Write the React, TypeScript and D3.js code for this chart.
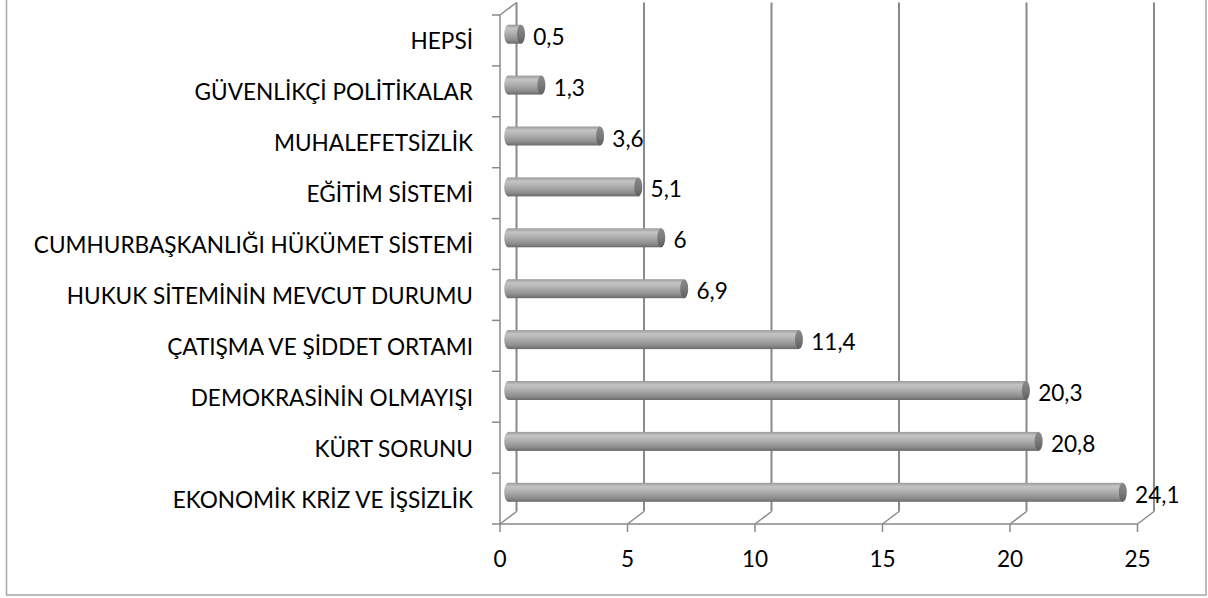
import React from "react";
import * as d3 from "d3";

const categories = [
  "EKONOMİK KRİZ VE İŞSİZLİK",
  "KÜRT SORUNU",
  "DEMOKRASİNİN OLMAYIŞI",
  "ÇATIŞMA VE ŞİDDET ORTAMI",
  "HUKUK SİTEMİNİN MEVCUT DURUMU",
  "CUMHURBAŞKANLIĞI HÜKÜMET SİSTEMİ",
  "EĞİTİM SİSTEMİ",
  "MUHALEFETSİZLİK",
  "GÜVENLİKÇİ POLİTİKALAR",
  "HEPSİ",
];
const values = [24.1, 20.8, 20.3, 11.4, 6.9, 6, 5.1, 3.6, 1.3, 0.5];
const valueLabels = ["24,1", "20,8", "20,3", "11,4", "6,9", "6", "5,1", "3,6", "1,3", "0,5"];
const xTicks = [0, 5, 10, 15, 20, 25];

const W = 1208;
const H = 598;
const FONT = "Lato, 'Open Sans', sans-serif";
const FS = 22.6;

export default function App() {
  const x = d3.scaleLinear().domain([0, 25]).range([500, 1137.5]);
  const y = d3
    .scaleBand<string>()
    .domain([...categories].reverse())
    .range([15, 524])
    .padding(0);
  const DX = 16.5;
  const DY = -12.5;
  const floorY = 524;
  const topY = 15;
  const gridCol = "#8a8a8a";
  const bw = y.bandwidth();
  const barH = 19;
  const rx = 4;

  return (
    <svg
      width={W}
      height={H}
      style={{ position: "absolute", left: 0, top: 0, background: "#fff" }}
      fontFamily={FONT}
    >
      <defs>
        <linearGradient id="body" x1="0" y1="0" x2="0" y2="1">
          <stop offset="0" stopColor="#9a9a9a" />
          <stop offset="0.2" stopColor="#c4c4c4" />
          <stop offset="0.45" stopColor="#b0b0b0" />
          <stop offset="0.8" stopColor="#8e8e8e" />
          <stop offset="1" stopColor="#6a6a6a" />
        </linearGradient>
        <linearGradient id="cap" x1="0" y1="0" x2="0" y2="1">
          <stop offset="0" stopColor="#8a8a8a" />
          <stop offset="0.5" stopColor="#7a7a7a" />
          <stop offset="1" stopColor="#5e5e5e" />
        </linearGradient>
      </defs>
      {/* outer frame */}
      <rect x={6.5} y={-2} width={1199.5} height={597} fill="none" stroke="#a6a6a6" strokeWidth={1.5} />

      {/* back gridlines, floor diagonals, ticks */}
      {xTicks.map((t) => (
        <g key={"g" + t}>
          <line x1={x(t) + DX} x2={x(t) + DX} y1={topY + DY} y2={floorY + DY} stroke={gridCol} strokeWidth={2} />
          <line x1={x(t)} x2={x(t) + DX} y1={floorY} y2={floorY + DY} stroke={gridCol} strokeWidth={1.5} />
          <line x1={x(t)} x2={x(t)} y1={floorY} y2={floorY + 8} stroke={gridCol} strokeWidth={1.5} />
        </g>
      ))}
      {/* left front axis */}
      <line x1={x(0)} x2={x(0)} y1={topY} y2={floorY} stroke={gridCol} strokeWidth={1.5} />
      <line x1={x(0)} x2={x(0) + DX} y1={topY} y2={topY + DY} stroke={gridCol} strokeWidth={1.5} />
      {/* floor front line */}
      <line x1={x(0) - 8} x2={x(25)} y1={floorY} y2={floorY} stroke={gridCol} strokeWidth={1.5} />
      {/* category tick marks */}
      {categories.map((c) => (
        <line key={"t" + c} x1={x(0) - 8} x2={x(0)} y1={y(c) as number} y2={y(c) as number} stroke={gridCol} strokeWidth={1.5} />
      ))}

      {/* bars */}
      {categories.map((c, i) => {
        const yc = (y(c) as number) + bw / 2 + DY / 2;
        const x0 = x(0) + DX / 2;
        const x1 = x(values[i]) + DX / 2;
        return (
          <g key={"b" + c}>
            <ellipse cx={x0} cy={yc} rx={rx} ry={barH / 2} fill="url(#body)" />
            <rect x={x0} y={yc - barH / 2} width={Math.max(0, x1 - x0)} height={barH} fill="url(#body)" />
            <ellipse cx={x1} cy={yc} rx={rx} ry={barH / 2} fill="url(#cap)" />
            <text x={x(values[i]) + DX + 4} y={yc + 10.5} fontSize={FS} fill="#000">
              {valueLabels[i]}
            </text>
          </g>
        );
      })}

      {/* category labels */}
      {categories.map((c) => (
        <text
          key={"l" + c}
          x={473}
          y={(y(c) as number) + bw / 2 + 9}
          textAnchor="end"
          fontSize={FS}
          fill="#000"
        >
          {c}
        </text>
      ))}

      {/* x tick labels */}
      {xTicks.map((t) => (
        <text key={"xl" + t} x={x(t)} y={567} textAnchor="middle" fontSize={FS} fill="#000">
          {t}
        </text>
      ))}
    </svg>
  );
}
